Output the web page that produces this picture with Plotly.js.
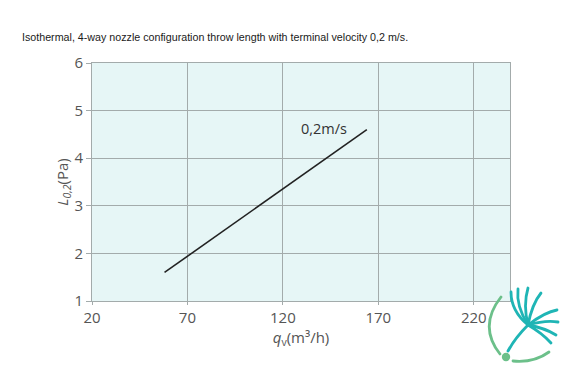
<!DOCTYPE html>
<html>
<head>
<meta charset="utf-8">
<script src="https://cdn.plot.ly/plotly-3.0.1.min.js"></script>
<style>html,body{margin:0;padding:0;background:#fff;}#chart{width:579px;height:385px;}</style>
</head>
<body>
<div id="chart"></div>
<script>
// Data
const flowRate = [58, 164];          // q_v (m3/h)
const throwLength = [1.6, 4.6];      // L_0,2
const seriesLabel = "0,2m/s";
const xTicks = [20, 70, 120, 170, 220];
const yTicks = [1, 2, 3, 4, 5, 6];

const L = 92, R = 510, T = 63, B = 301, W = 579, H = 385;
const pw = R - L, ph = B - T;

const logoSvg = '<svg xmlns="http://www.w3.org/2000/svg" viewBox="480 280 100 100" width="100" height="100">' +
  '<g fill="none" stroke-linecap="round">' +
  '<path d="M501 297 Q478 326 500 354" stroke="#6cc08a" stroke-width="2.8"/>' +
  '<path d="M513 361 Q534 363 549 352" stroke="#6cc08a" stroke-width="2.8"/>' +
  '<g stroke="#1fb5b5" stroke-width="2.8">' +
  '<path d="M528 325 Q515 338 508 351"/>' +
  '<path d="M528 325 Q511 311 511 292"/>' +
  '<path d="M528 325 Q516 306 518 289"/>' +
  '<path d="M528 325 Q523 305 528 288"/>' +
  '<path d="M528 325 Q532 304 541 293"/>' +
  '<path d="M528 325 Q545 312 557 310"/>' +
  '<path d="M528 325 Q545 320 558 322"/>' +
  '<path d="M528 325 Q545 328 556 335"/>' +
  '<path d="M528 325 Q542 333 551 343"/>' +
  '</g></g>' +
  '<circle cx="506" cy="357" r="4.2" fill="#6cc08a"/>' +
  '</svg>';
const logoUri = 'data:image/svg+xml;charset=utf-8,' + encodeURIComponent(logoSvg);

const trace = {
  x: flowRate, y: throwLength, type: 'scatter', mode: 'lines',
  line: {color: '#222222', width: 1.6}, hoverinfo: 'skip', showlegend: false
};

const tickFont = {family: 'Open Sans, sans-serif', size: 15, color: '#555555'};

const layout = {
  width: W, height: H,
  margin: {l: L, r: W - R, t: T, b: H - B, pad: 0},
  paper_bgcolor: '#ffffff',
  plot_bgcolor: '#e6f6f6',
  title: {
    text: 'Isothermal, 4-way nozzle configuration throw length with terminal velocity 0,2 m/s.',
    font: {family: 'Liberation Sans, Arial, sans-serif', size: 10.7, color: '#1a1a1a'},
    xref: 'container', yref: 'container', x: 22 / W, xanchor: 'left', y: 1 - 37 / H, yanchor: 'middle'
  },
  xaxis: {
    range: [20, 239], tickvals: xTicks, ticktext: xTicks.map(String),
    showgrid: true, gridcolor: '#a3abab', gridwidth: 1,
    showline: true, linecolor: '#a3abab', linewidth: 1, mirror: true,
    ticks: 'outside', ticklen: 3, tickcolor: '#a3abab',
    tickfont: tickFont, zeroline: false, fixedrange: true,
    title: {text: '<i>q</i><sub>v</sub>(m³/h)', font: {family: 'Open Sans, sans-serif', size: 15, color: '#555555'}, standoff: 6}
  },
  yaxis: {
    range: [1, 6], tickvals: yTicks, ticktext: yTicks.map(String),
    showgrid: true, gridcolor: '#a3abab', gridwidth: 1,
    showline: true, linecolor: '#a3abab', linewidth: 1, mirror: true,
    ticks: 'outside', ticklen: 5, tickcolor: '#a3abab',
    tickfont: tickFont, zeroline: false, fixedrange: true,
    title: {text: '<i>L</i><sub><i>0,2</i></sub>(Pa)', font: {family: 'Open Sans, sans-serif', size: 15, color: '#555555'}, standoff: 2}
  },
  annotations: [{
    x: flowRate[1], y: throwLength[1], xref: 'x', yref: 'y',
    text: seriesLabel, showarrow: false, xanchor: 'right', yanchor: 'middle',
    xshift: -18, yshift: 1,
    font: {family: 'Open Sans, sans-serif', size: 14.5, color: '#333333'}
  }],
  images: [{
    source: logoUri, xref: 'paper', yref: 'paper',
    x: (480 - L) / pw, y: (B - 280) / ph, sizex: 100 / pw, sizey: 100 / ph,
    xanchor: 'left', yanchor: 'top', sizing: 'stretch', layer: 'above'
  }]
};

Plotly.newPlot('chart', [trace], layout, {displayModeBar: false, staticPlot: true});
</script>
</body>
</html>
